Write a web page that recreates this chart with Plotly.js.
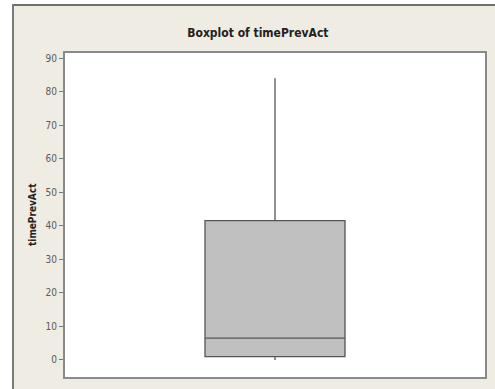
<!DOCTYPE html>
<html>
<head>
<meta charset="utf-8">
<script src="https://cdn.plot.ly/plotly-3.0.1.min.js"></script>
<style>
  html, body { margin: 0; padding: 0; background: #efece3; overflow: hidden; width: 495px; height: 389px; }
  #topstrip { position: absolute; left: 0; top: 0; width: 495px; height: 4px; background: #ffffff; }
  #leftstrip { position: absolute; left: 0; top: 0; width: 12px; height: 389px; background: #ffffff; }
  #topline { position: absolute; left: 12px; top: 4px; width: 483px; height: 2px; background: #6f6f6f; }
  #leftline { position: absolute; left: 12px; top: 4px; width: 2px; height: 385px; background: #7a7a7a; }
  #chart { position: absolute; left: 14px; top: 6px; width: 481px; height: 383px; }
</style>
</head>
<body>
<div id="topstrip"></div><div id="leftstrip"></div><div id="topline"></div><div id="leftline"></div>
<div id="chart"></div>
<script>
// Summary statistics
const seriesName = ["timePrevAct"];
const q1Values = [1.0];
const medianValues = [6.5];
const q3Values = [41.5];
const lowerFenceValues = [0];
const upperFenceValues = [84];
const yTickValues = [0, 10, 20, 30, 40, 50, 60, 70, 80, 90];
const yTickLabels = ["0", "10", "20", "30", "40", "50", "60", "70", "80", "90"];

const fontFam = "'DejaVu Sans Condensed', 'Liberation Sans Narrow', 'DejaVu Sans', sans-serif";

const trace = {
  type: "box",
  name: seriesName[0],
  x: [0],
  q1: q1Values,
  median: medianValues,
  q3: q3Values,
  lowerfence: lowerFenceValues,
  upperfence: upperFenceValues,
  width: 1,
  whiskerwidth: 0,
  fillcolor: "#c0c0c0",
  line: { color: "#555555", width: 1.3 },
  hoverinfo: "skip",
  showlegend: false
};

const layout = {
  width: 481,
  height: 383,
  margin: { l: 51, r: 10, t: 47, b: 12, pad: 0 },
  paper_bgcolor: "#efece3",
  plot_bgcolor: "#ffffff",
  font: { family: fontFam, color: "#555555", size: 10 },
  title: {
    text: "<b>Boxplot of timePrevAct</b>",
    font: { family: fontFam, size: 12, color: "#222222" },
    xref: "container", x: 0.507, xanchor: "center",
    yref: "container", y: 1 - 27 / 383, yanchor: "middle"
  },
  xaxis: {
    range: [-1.5, 1.5],
    showticklabels: false,
    ticks: "",
    showgrid: false,
    zeroline: false,
    showline: true,
    linecolor: "#8a8a8a",
    linewidth: 2,
    mirror: true,
    fixedrange: true
  },
  yaxis: {
    range: [-5.1, 91.5],
    tickvals: yTickValues,
    ticktext: yTickLabels,
    ticks: "outside",
    ticklen: 4,
    tickwidth: 1,
    tickcolor: "#777777",
    tickfont: { family: fontFam, size: 10, color: "#5a5a5a" },
    showgrid: false,
    zeroline: false,
    showline: true,
    linecolor: "#8a8a8a",
    linewidth: 2,
    mirror: true,
    fixedrange: true
  },
  annotations: [{
    text: "<b>timePrevAct</b>",
    xref: "paper", yref: "paper",
    x: -33 / 420, y: 0.5,
    xanchor: "center", yanchor: "middle",
    textangle: -90,
    showarrow: false,
    font: { family: fontFam, size: 10, color: "#222222" }
  }]
};

Plotly.newPlot("chart", [trace], layout, { displayModeBar: false, staticPlot: true });
</script>
</body>
</html>
